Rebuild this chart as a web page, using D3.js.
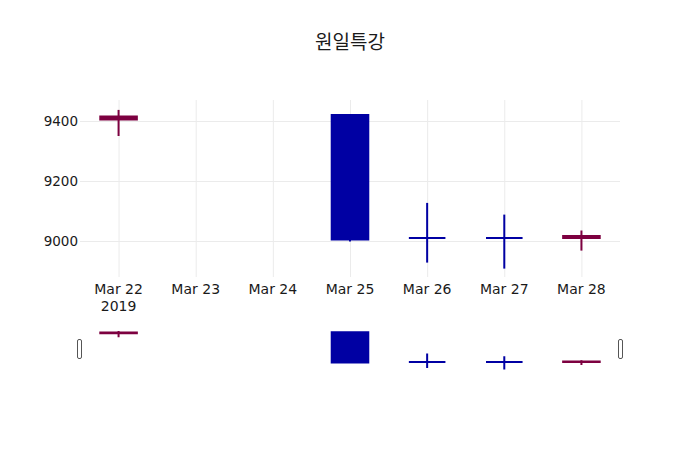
<!DOCTYPE html>
<html>
<head>
<meta charset="utf-8">
<script src="https://cdn.jsdelivr.net/npm/d3@7"></script>
<style>
html,body{margin:0;padding:0;background:#fff;}
svg text{font-family:"DejaVu Sans","Open Sans",sans-serif;}
</style>
</head>
<body>
<svg id="chart" width="700" height="450"></svg>
<script>
const title = "원일특강";
const dates = ["2019-03-22","2019-03-25","2019-03-26","2019-03-27","2019-03-28"];
const openVals  = [9405, 9420, 9010, 9010, 9010];
const highVals  = [9437, 9420, 9127, 9088, 9035];
const lowVals   = [9350, 8998, 8928, 8908, 8968];
const closeVals = [9415, 9005, 9010, 9010, 9017];
const yTicks = [9000, 9200, 9400];
const yRange = [8880, 9470];
const xTickDates = ["2019-03-22","2019-03-23","2019-03-24","2019-03-25","2019-03-26","2019-03-27","2019-03-28"];

const incColor = "#7d0040";
const decColor = "#0000a3";
const gridColor = "#ebebeb";

const parse = d3.utcParse("%Y-%m-%d");
const data = dates.map((d,i)=>({date:parse(d),open:openVals[i],high:highVals[i],low:lowVals[i],close:closeVals[i]}));
const DAY = 86400000;

const svg = d3.select("#chart");
const L = 80, R = 620, T = 100, B = 277;
const sT = 328.5, sB = 371.5;

const x = d3.scaleUtc()
  .domain([new Date(parse(xTickDates[0]).getTime() - DAY/2), new Date(parse(xTickDates[xTickDates.length-1]).getTime() + DAY/2)])
  .range([L, R]);

const y = d3.scaleLinear().domain(yRange).range([B, T]);
const ys = d3.scaleLinear().domain(yRange).range([sB, sT]);

// title
svg.append("text").attr("x", 350).attr("y", 49).attr("text-anchor","middle")
  .style("font-family","'Noto Sans CJK KR',sans-serif").style("font-size","19px").attr("fill","#1a1a1a").text(title);

// grid
const xTicks = xTickDates.map(parse);
const xAxis = d3.axisBottom(x).tickValues(xTicks).tickSize(-(B - T)).tickFormat("");
svg.append("g").attr("transform",`translate(0,${B})`).call(xAxis)
  .call(g=>g.select(".domain").remove())
  .call(g=>g.selectAll("line").attr("stroke",gridColor));
const yAxis = d3.axisLeft(y).tickValues(yTicks).tickSize(-(R - L)).tickPadding(2).tickFormat(d3.format("d"));
svg.append("g").attr("transform",`translate(${L},0)`).call(yAxis)
  .call(g=>g.select(".domain").remove())
  .call(g=>g.selectAll("line").attr("stroke",gridColor))
  .call(g=>g.selectAll("text").attr("fill","#1a1a1a").style("font-size","13.5px").style("font-family","'DejaVu Sans',sans-serif"));

// x tick labels
const fmt = d3.utcFormat("%b %-d");
const xl = svg.append("g");
xTicks.forEach((d,i)=>{
  xl.append("text").attr("x", x(d)).attr("y", 294).attr("text-anchor","middle")
    .attr("fill","#1a1a1a").style("font-size","14px").text(fmt(d));
  if(i===0){
    xl.append("text").attr("x", x(d)).attr("y", 311).attr("text-anchor","middle")
      .attr("fill","#1a1a1a").style("font-size","14px").text(d3.utcFormat("%Y")(d));
  }
});

function drawCandles(g, yScale){
  const bw = x(new Date(DAY/2)) - x(new Date(0));
  data.forEach(d=>{
    const c = d.close > d.open ? incColor : decColor;
    const cx = x(d.date);
    const top = yScale(Math.max(d.open,d.close));
    const bot = yScale(Math.min(d.open,d.close));
    g.append("line").attr("x1",cx).attr("x2",cx).attr("y1",yScale(d.high)).attr("y2",yScale(d.low))
      .attr("stroke",c).attr("stroke-width",2);
    const x0 = cx - bw/2 + 1, x1 = cx + bw/2 - 1;
    g.append("path").attr("d",`M${x0},${top}H${x1}V${bot}H${x0}Z`)
      .attr("fill",c).attr("stroke",c).attr("stroke-width",2);
  });
}
drawCandles(svg.append("g"), y);

// range slider
const sl = svg.append("g");
sl.append("defs").append("clipPath").attr("id","sclip").append("rect")
  .attr("x",L).attr("y",sT).attr("width",R-L).attr("height",sB-sT);
const sg = sl.append("g").attr("clip-path","url(#sclip)");
drawCandles(sg, ys);
[L - 0.5, R + 0.5].forEach(hx=>{
  sl.append("rect").attr("x",hx-2).attr("y",339.5).attr("width",4).attr("height",19)
    .attr("rx",1.5).attr("fill","#fff").attr("stroke","#555").attr("stroke-width",1);
});
</script>
</body>
</html>
